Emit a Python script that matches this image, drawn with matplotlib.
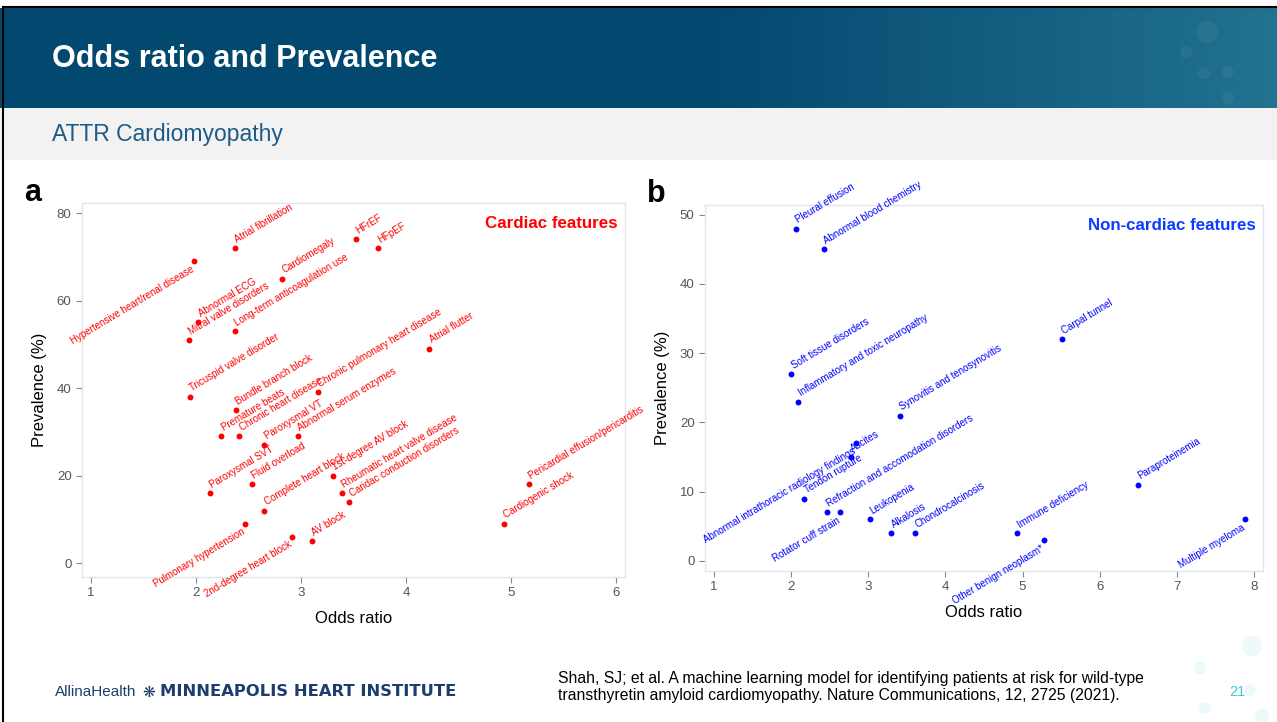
import matplotlib
matplotlib.use("Agg")
import matplotlib.pyplot as plt
import numpy as np
from matplotlib.lines import Line2D
from matplotlib.patches import Circle

plt.rcParams['font.family'] = ['Liberation Sans', 'DejaVu Sans']

W, H = 1277, 722

# panel a: cardiac features
cardiac_names = [
    "Hypertensive heart/renal disease", "Atrial fibrillation", "Abnormal ECG",
    "Mitral valve disorders", "Long-term anticoagulation use", "Cardiomegaly",
    "HFrEF", "HFpEF", "Atrial flutter", "Tricuspid valve disorder",
    "Bundle branch block", "Premature beats", "Chronic heart disease",
    "Chronic pulmonary heart disease", "Paroxysmal VT", "Abnormal serum enzymes",
    "Paroxysmal SVT", "Fluid overload", "Complete heart block",
    "1st-degree AV block", "Rheumatic heart valve disease",
    "Caridac conduction disorders", "Pulmonary hypertension",
    "2nd-degree heart block", "AV block", "Pericardial effusion/pericarditis",
    "Cardiogenic shock",
]
cardiac_or = [1.98, 2.37, 2.02, 1.93, 2.37, 2.82, 3.52, 3.73, 4.22, 1.94,
              2.38, 2.24, 2.41, 3.16, 2.65, 2.97, 2.13, 2.53, 2.65,
              3.30, 3.39, 3.46, 2.47, 2.91, 3.10, 5.17, 4.93]
cardiac_prev = [69, 72, 55, 51, 53, 65, 74, 72, 49, 38,
                35, 29, 29, 39, 27, 29, 16, 18, 12,
                20, 16, 14, 9, 6, 5, 18, 9]
cardiac_left = ["Hypertensive heart/renal disease", "Pulmonary hypertension",
                "2nd-degree heart block"]

# panel b: non-cardiac features
noncard_names = [
    "Pleural effusion", "Abnormal blood chemistry", "Soft tissue disorders",
    "Inflammatory and toxic neuropathy", "Synovitis and tenosynovitis",
    "Abnormal intrathoracic radiology findings", "Ascites", "Tendon rupture",
    "Refraction and accomodation disorders", "Rotator cuff strain",
    "Leukopenia", "Alkalosis", "Chondrocalcinosis", "Carpal tunnel",
    "Paraproteinemia", "Immune deficiency", "Other benign neoplasm*",
    "Multiple myeloma",
]
noncard_or = [2.06, 2.42, 2.00, 2.09, 3.41, 2.84, 2.77, 2.17,
              2.46, 2.63, 3.02, 3.30, 3.60, 5.51,
              6.50, 4.93, 5.28, 7.88]
noncard_prev = [48, 45, 27, 23, 21, 17, 15, 9,
                7, 7, 6, 4, 4, 32,
                11, 4, 3, 6]
noncard_left = ["Abnormal intrathoracic radiology findings", "Rotator cuff strain",
                "Other benign neoplasm*", "Multiple myeloma"]

fig = plt.figure(figsize=(W / 100, H / 100), dpi=100)


def fx(x):
    return x / W


def fy(y):
    return 1 - y / H


# header band with gradient
hax = fig.add_axes([0, fy(108), 1, 100 / H])
t = np.linspace(0, 1, 400)
ramp = np.clip((t - 0.55) / 0.45, 0, 1)
c0 = np.array(matplotlib.colors.to_rgb('#03486f'))
c1 = np.array(matplotlib.colors.to_rgb('#227290'))
grad = c0[None, :] * (1 - ramp[:, None]) + c1[None, :] * ramp[:, None]
hax.imshow(grad[None, :, :], aspect='auto', extent=[0, 1, 0, 1])
hax.axis('off')

# subtitle band
sax = fig.add_axes([0, fy(160), 1, 52 / H])
sax.set_facecolor('#f2f2f2')
sax.set_xticks([])
sax.set_yticks([])
for s in sax.spines.values():
    s.set_visible(False)

fig.text(fx(52), fy(59), "Odds ratio and Prevalence", color='white',
         fontsize=22, fontweight='bold', va='center')
fig.text(fx(52), fy(134), "ATTR Cardiomyopathy", color='#1d5a86',
         fontsize=16.5, va='center')

# decorative dots in header
for (cx, cy, r) in [(1207, 32, 11), (1186, 52, 6), (1204, 73, 6),
                    (1228, 72, 6), (1228, 98, 6)]:
    fig.patches.append(Circle((cx / 100, (H - cy) / 100), r / 100,
                              transform=fig.dpi_scale_trans,
                              color='white', alpha=0.05, lw=0))
for (cx, cy, r) in [(1252, 646, 10), (1200, 668, 6), (1250, 690, 6),
                    (1205, 708, 6), (1262, 716, 7)]:
    fig.patches.append(Circle((cx / 100, (H - cy) / 100), r / 100,
                              transform=fig.dpi_scale_trans,
                              color='#edf8fb', lw=0))

# frame lines
fig.add_artist(Line2D([fx(2.5), 1], [fy(7), fy(7)], color='black', lw=1.5))
fig.add_artist(Line2D([fx(2.5), fx(2.5)], [fy(7), 0], color='black', lw=1.5))


def draw_panel(ax, xs, ys, names, left, color, title, xlim, ylim, xt, yt):
    ax.scatter(xs, ys, s=18, color=color, zorder=3, lw=0)
    for n, x, y in zip(names, xs, ys):
        if n in left:
            ax.annotate(n, (x, y), xytext=(-2.5, -2), textcoords='offset points',
                        rotation=31, rotation_mode='anchor', ha='right', va='top',
                        fontsize=7, color=color)
        else:
            ax.annotate(n, (x, y), xytext=(2.5, 2.5), textcoords='offset points',
                        rotation=31, rotation_mode='anchor', ha='left', va='bottom',
                        fontsize=7, color=color)
    ax.set_xlim(*xlim)
    ax.set_ylim(*ylim)
    ax.set_xticks(xt)
    ax.set_yticks(yt)
    for s in ax.spines.values():
        s.set_color('#dde7ee')
        s.set_linewidth(1)
    ax.tick_params(colors='#888888', labelcolor='#555555', labelsize=9.5,
                   length=4, width=0.8)
    ax.set_xlabel("Odds ratio", fontsize=12, labelpad=8)
    ax.set_ylabel("Prevalence (%)", fontsize=12, labelpad=7)
    ax.text(0.987, 0.965, title, transform=ax.transAxes, ha='right', va='top',
            fontsize=12.2, fontweight='bold', color=color)


ax_a = fig.add_axes([fx(82), fy(577), 543 / W, 374 / H])
draw_panel(ax_a, cardiac_or, cardiac_prev, cardiac_names, cardiac_left,
           '#ff0000', "Cardiac features", (0.914, 6.086), (-3.2, 82.3),
           [1, 2, 3, 4, 5, 6], [0, 20, 40, 60, 80])

ax_b = fig.add_axes([fx(705), fy(571), 558 / W, 366 / H])
draw_panel(ax_b, noncard_or, noncard_prev, noncard_names, noncard_left,
           '#0000ff', "Non-cardiac features", (0.883, 8.117), (-1.45, 51.4),
           [1, 2, 3, 4, 5, 6, 7, 8], [0, 10, 20, 30, 40, 50])
ax_b.texts[-1].set_color('#0b3cff')

fig.text(fx(24), fy(193), "a", fontsize=22, fontweight='bold', va='center')
fig.text(fx(647), fy(194), "b", fontsize=22, fontweight='bold', va='center')

# footer
fig.text(fx(55), fy(692), "AllinaHealth", fontsize=11, color='#1c3d6e',
         va='center')
fig.text(fx(142), fy(692), "\u274b", fontsize=11, color='#1c3d6e',
         va='center', family='DejaVu Sans')
fig.text(fx(160), fy(692), "MINNEAPOLIS HEART INSTITUTE", fontsize=11.8,
         fontweight='bold', color='#1c3d6e', va='center', family='DejaVu Sans')
fig.text(fx(558), fy(687),
         "Shah, SJ; et al. A machine learning model for identifying patients at risk for wild-type\n"
         "transthyretin amyloid cardiomyopathy. Nature Communications, 12, 2725 (2021).",
         fontsize=11.3, color='black', va='center', linespacing=1.2)
fig.text(fx(1229), fy(692), "21", fontsize=10.5, color='#3fc3d6', va='center')

fig.savefig("out.png", dpi=100)
